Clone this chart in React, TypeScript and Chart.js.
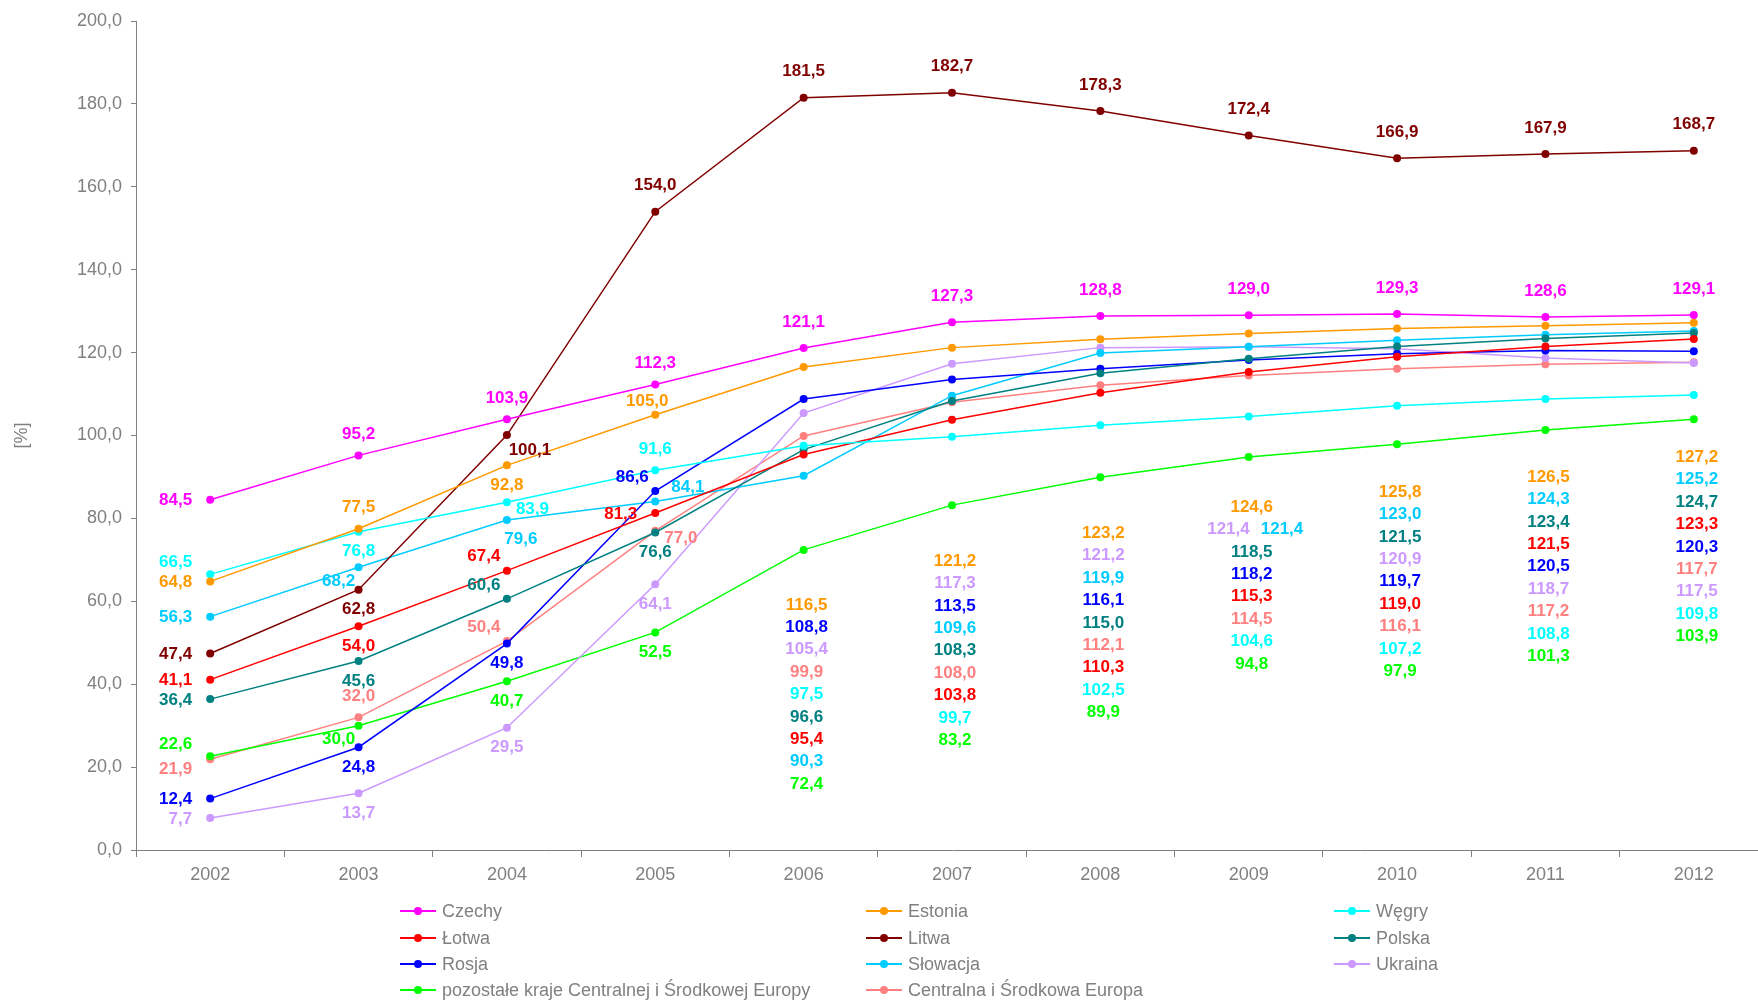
import React, { useEffect, useRef } from 'react';
import { Chart, registerables } from 'chart.js';

Chart.register(...registerables);

// ---------- data ----------
const YEARS = ['2002', '2003', '2004', '2005', '2006', '2007', '2008', '2009', '2010', '2011', '2012'];

const SERIES_NAMES = [
  'Czechy',
  'Estonia',
  'Węgry',
  'Łotwa',
  'Litwa',
  'Polska',
  'Rosja',
  'Słowacja',
  'Ukraina',
  'pozostałe kraje Centralnej i Środkowej Europy',
  'Centralna i Środkowa Europa',
];

const CZECHY = [84.5, 95.2, 103.9, 112.3, 121.1, 127.3, 128.8, 129.0, 129.3, 128.6, 129.1];
const ESTONIA = [64.8, 77.5, 92.8, 105.0, 116.5, 121.2, 123.2, 124.6, 125.8, 126.5, 127.2];
const WEGRY = [66.5, 76.8, 83.9, 91.6, 97.5, 99.7, 102.5, 104.6, 107.2, 108.8, 109.8];
const LOTWA = [41.1, 54.0, 67.4, 81.3, 95.4, 103.8, 110.3, 115.3, 119.0, 121.5, 123.3];
const LITWA = [47.4, 62.8, 100.1, 154.0, 181.5, 182.7, 178.3, 172.4, 166.9, 167.9, 168.7];
const POLSKA = [36.4, 45.6, 60.6, 76.6, 96.6, 108.3, 115.0, 118.5, 121.5, 123.4, 124.7];
const ROSJA = [12.4, 24.8, 49.8, 86.6, 108.8, 113.5, 116.1, 118.2, 119.7, 120.5, 120.3];
const SLOWACJA = [56.3, 68.2, 79.6, 84.1, 90.3, 109.6, 119.9, 121.4, 123.0, 124.3, 125.2];
const UKRAINA = [7.7, 13.7, 29.5, 64.1, 105.4, 117.3, 121.2, 121.4, 120.9, 118.7, 117.5];
const POZOSTALE = [22.6, 30.0, 40.7, 52.5, 72.4, 83.2, 89.9, 94.8, 97.9, 101.3, 103.9];
const CENTRALNA = [21.9, 32.0, 50.4, 77.0, 99.9, 108.0, 112.1, 114.5, 116.1, 117.2, 117.7];

const SERIES_VALUES = [CZECHY, ESTONIA, WEGRY, LOTWA, LITWA, POLSKA, ROSJA, SLOWACJA, UKRAINA, POZOSTALE, CENTRALNA];

const Y_TICKS = [0, 20, 40, 60, 80, 100, 120, 140, 160, 180, 200];

// ---------- styles ----------
const COLORS = [
  '#FF00FF',
  '#FF9900',
  '#00FFFF',
  '#FF0000',
  '#800000',
  '#008080',
  '#0000FF',
  '#00CCFF',
  '#CC99FF',
  '#00FF00',
  '#FF8080',
];

const GRAY = '#808080';
const FONT = '"Liberation Sans", Arial, Helvetica, sans-serif';

// label placement codes relative to each point ('C' = stacked column under the lines)
const LABEL_POS: string[][] = [
  ['L', 'A', 'A', 'A', 'T', 'T', 'T', 'T', 'T', 'T', 'T'],
  ['L', 'A', 'B', 'a', 'C', 'C', 'C', 'C', 'C', 'C', 'C'],
  ['LA', 'B', 'R', 'A', 'C', 'C', 'C', 'C', 'C', 'C', 'C'],
  ['L', 'B', 'AL', 'L', 'C', 'C', 'C', 'C', 'C', 'C', 'C'],
  ['L', 'B', 'BR', 'T', 'T', 'T', 'T', 'T', 'T', 'T', 'T'],
  ['L', 'B', 'AL', 'B', 'C', 'C', 'C', 'C', 'C', 'C', 'C'],
  ['L', 'B', 'B', 'AL', 'C', 'C', 'C', 'C', 'C', 'C', 'C'],
  ['L', 'BL', 'Br', 'AR', 'C', 'C', 'C', 'C', 'C', 'C', 'C'],
  ['L', 'B', 'B', 'B', 'C', 'C', 'C', 'C', 'C', 'C', 'C'],
  ['LA', 'BL', 'B', 'B', 'C', 'C', 'C', 'C', 'C', 'C', 'C'],
  ['LB', 'A', 'AL', 'R', 'C', 'C', 'C', 'C', 'C', 'C', 'C'],
];

const OFFSETS: Record<string, { align: CanvasTextAlign; dx: number; dy: number }> = {
  L: { align: 'right', dx: -18, dy: 1 },
  LA: { align: 'right', dx: -18, dy: -12 },
  LB: { align: 'right', dx: -18, dy: 10 },
  A: { align: 'center', dx: 0, dy: -21 },
  T: { align: 'center', dx: 0, dy: -26 },
  B: { align: 'center', dx: 0, dy: 20 },
  a: { align: 'center', dx: -8, dy: -13 },
  BL: { align: 'center', dx: -20, dy: 14 },
  BR: { align: 'center', dx: 23, dy: 15 },
  Br: { align: 'center', dx: 14, dy: 19 },
  R: { align: 'left', dx: 9, dy: 7 },
  AL: { align: 'center', dx: -23, dy: -14 },
  AR: { align: 'left', dx: 16, dy: -14 },
};

// pixel gap between the lowest point and the first stacked label, per year
const COLUMN_GAP: Record<string, number> = {
  '2006': 55,
  '2007': 56,
  '2008': 56,
  '2009': 50,
  '2010': 48,
  '2011': 47,
  '2012': 38,
};
const COLUMN_STEP = 22.4;

const fmt = (v: number) => v.toFixed(1).replace('.', ',');

const labelPlugin = {
  id: 'valueLabels',
  afterDatasetsDraw(chart: any) {
    const ctx: CanvasRenderingContext2D = chart.ctx;
    ctx.save();
    ctx.font = `bold 17px ${FONT}`;
    ctx.textBaseline = 'middle';
    const columns: Record<number, { i: number; v: number }[]> = {};
    chart.data.datasets.forEach((ds: any, i: number) => {
      const meta = chart.getDatasetMeta(i);
      ds.data.forEach((v: number, j: number) => {
        const code = LABEL_POS[i][j];
        if (code === 'C') {
          (columns[j] = columns[j] || []).push({ i, v });
          return;
        }
        const pt = meta.data[j];
        const o = OFFSETS[code];
        ctx.fillStyle = COLORS[i];
        ctx.textAlign = o.align;
        ctx.fillText(fmt(v), pt.x + o.dx, pt.y + o.dy);
      });
    });
    Object.keys(columns).forEach((key) => {
      const j = Number(key);
      const items = columns[j].sort((a, b) => b.v - a.v || b.i - a.i);
      let lowest = -Infinity;
      chart.data.datasets.forEach((_: any, i: number) => {
        const p = chart.getDatasetMeta(i).data[j];
        if (p.y > lowest) lowest = p.y;
      });
      const x = chart.getDatasetMeta(0).data[j].x + 3;
      let y = lowest + COLUMN_GAP[YEARS[j]];
      let k = 0;
      while (k < items.length) {
        if (k + 1 < items.length && items[k + 1].v === items[k].v) {
          ctx.fillStyle = COLORS[items[k].i];
          ctx.textAlign = 'right';
          ctx.fillText(fmt(items[k].v), x - 2, y);
          ctx.fillStyle = COLORS[items[k + 1].i];
          ctx.textAlign = 'left';
          ctx.fillText(fmt(items[k + 1].v), x + 9, y);
          k += 2;
        } else {
          ctx.fillStyle = COLORS[items[k].i];
          ctx.textAlign = 'center';
          ctx.fillText(fmt(items[k].v), x, y);
          k += 1;
        }
        y += COLUMN_STEP;
      }
    });
    ctx.restore();
  },
};

const LEGEND_COLS = [400, 866, 1334];
const LEGEND_ROWS = [911, 938, 964, 990];

const legendPlugin = {
  id: 'customLegend',
  afterDraw(chart: any) {
    const ctx: CanvasRenderingContext2D = chart.ctx;
    ctx.save();
    ctx.font = `18px ${FONT}`;
    ctx.textBaseline = 'middle';
    ctx.textAlign = 'left';
    SERIES_NAMES.forEach((name, i) => {
      const x0 = LEGEND_COLS[i % 3];
      const y0 = LEGEND_ROWS[Math.floor(i / 3)];
      ctx.strokeStyle = COLORS[i];
      ctx.lineWidth = 2;
      ctx.beginPath();
      ctx.moveTo(x0, y0);
      ctx.lineTo(x0 + 36, y0);
      ctx.stroke();
      ctx.fillStyle = COLORS[i];
      ctx.beginPath();
      ctx.arc(x0 + 18, y0, 4, 0, Math.PI * 2);
      ctx.fill();
      ctx.fillStyle = GRAY;
      ctx.fillText(name, x0 + 42, y0 + 1);
    });
    ctx.restore();
  },
};

export default function App() {
  const canvasRef = useRef<HTMLCanvasElement | null>(null);

  useEffect(() => {
    if (!canvasRef.current) return;
    Chart.defaults.font.family = FONT;
    const chart = new Chart(canvasRef.current, {
      type: 'line',
      data: {
        labels: YEARS,
        datasets: SERIES_NAMES.map((name, i) => ({
          label: name,
          data: SERIES_VALUES[i],
          borderColor: COLORS[i],
          backgroundColor: COLORS[i],
          borderWidth: 1.5,
          pointRadius: 4,
          pointBorderWidth: 0,
          pointBackgroundColor: COLORS[i],
          fill: false,
          tension: 0,
        })),
      },
      options: {
        responsive: false,
        animation: false,
        devicePixelRatio: 1,
        events: [],
        layout: { padding: { top: 21, right: 12, bottom: 94, left: 0 } },
        plugins: {
          legend: { display: false },
          tooltip: { enabled: false },
          title: { display: false },
        },
        scales: {
          x: {
            type: 'category',
            offset: true,
            grid: {
              display: true,
              offset: true,
              drawOnChartArea: false,
              drawTicks: true,
              tickLength: 7,
              color: GRAY,
            },
            border: { display: true, color: GRAY, width: 1 },
            ticks: { color: GRAY, font: { size: 18, family: FONT }, padding: 7, maxRotation: 0, autoSkip: false },
            afterFit: (scale: any) => {
              scale.height = 60;
            },
          },
          y: {
            min: 0,
            max: 200,
            afterBuildTicks: (scale: any) => {
              scale.ticks = Y_TICKS.map((v) => ({ value: v }));
            },
            grid: {
              display: true,
              drawOnChartArea: false,
              drawTicks: true,
              tickLength: 5,
              color: GRAY,
            },
            border: { display: true, color: GRAY, width: 1 },
            ticks: {
              color: GRAY,
              font: { size: 18, family: FONT },
              padding: 9,
              callback: (v: any) => fmt(Number(v)),
            },
            title: {
              display: true,
              text: '[%]',
              color: GRAY,
              font: { size: 18, family: FONT },
              padding: { top: 11, bottom: 0 },
            },
            afterFit: (scale: any) => {
              scale.width = 136;
            },
          },
        },
      },
      plugins: [labelPlugin, legendPlugin],
    } as any);
    return () => {
      chart.destroy();
    };
  }, []);

  return (
    <div
      style={{
        position: 'absolute',
        left: 0,
        top: 0,
        width: 1758,
        height: 1004,
        overflow: 'hidden',
        background: '#ffffff',
      }}
    >
      <canvas ref={canvasRef} width={1780} height={1004} style={{ display: 'block', width: 1780, height: 1004 }} />
    </div>
  );
}
